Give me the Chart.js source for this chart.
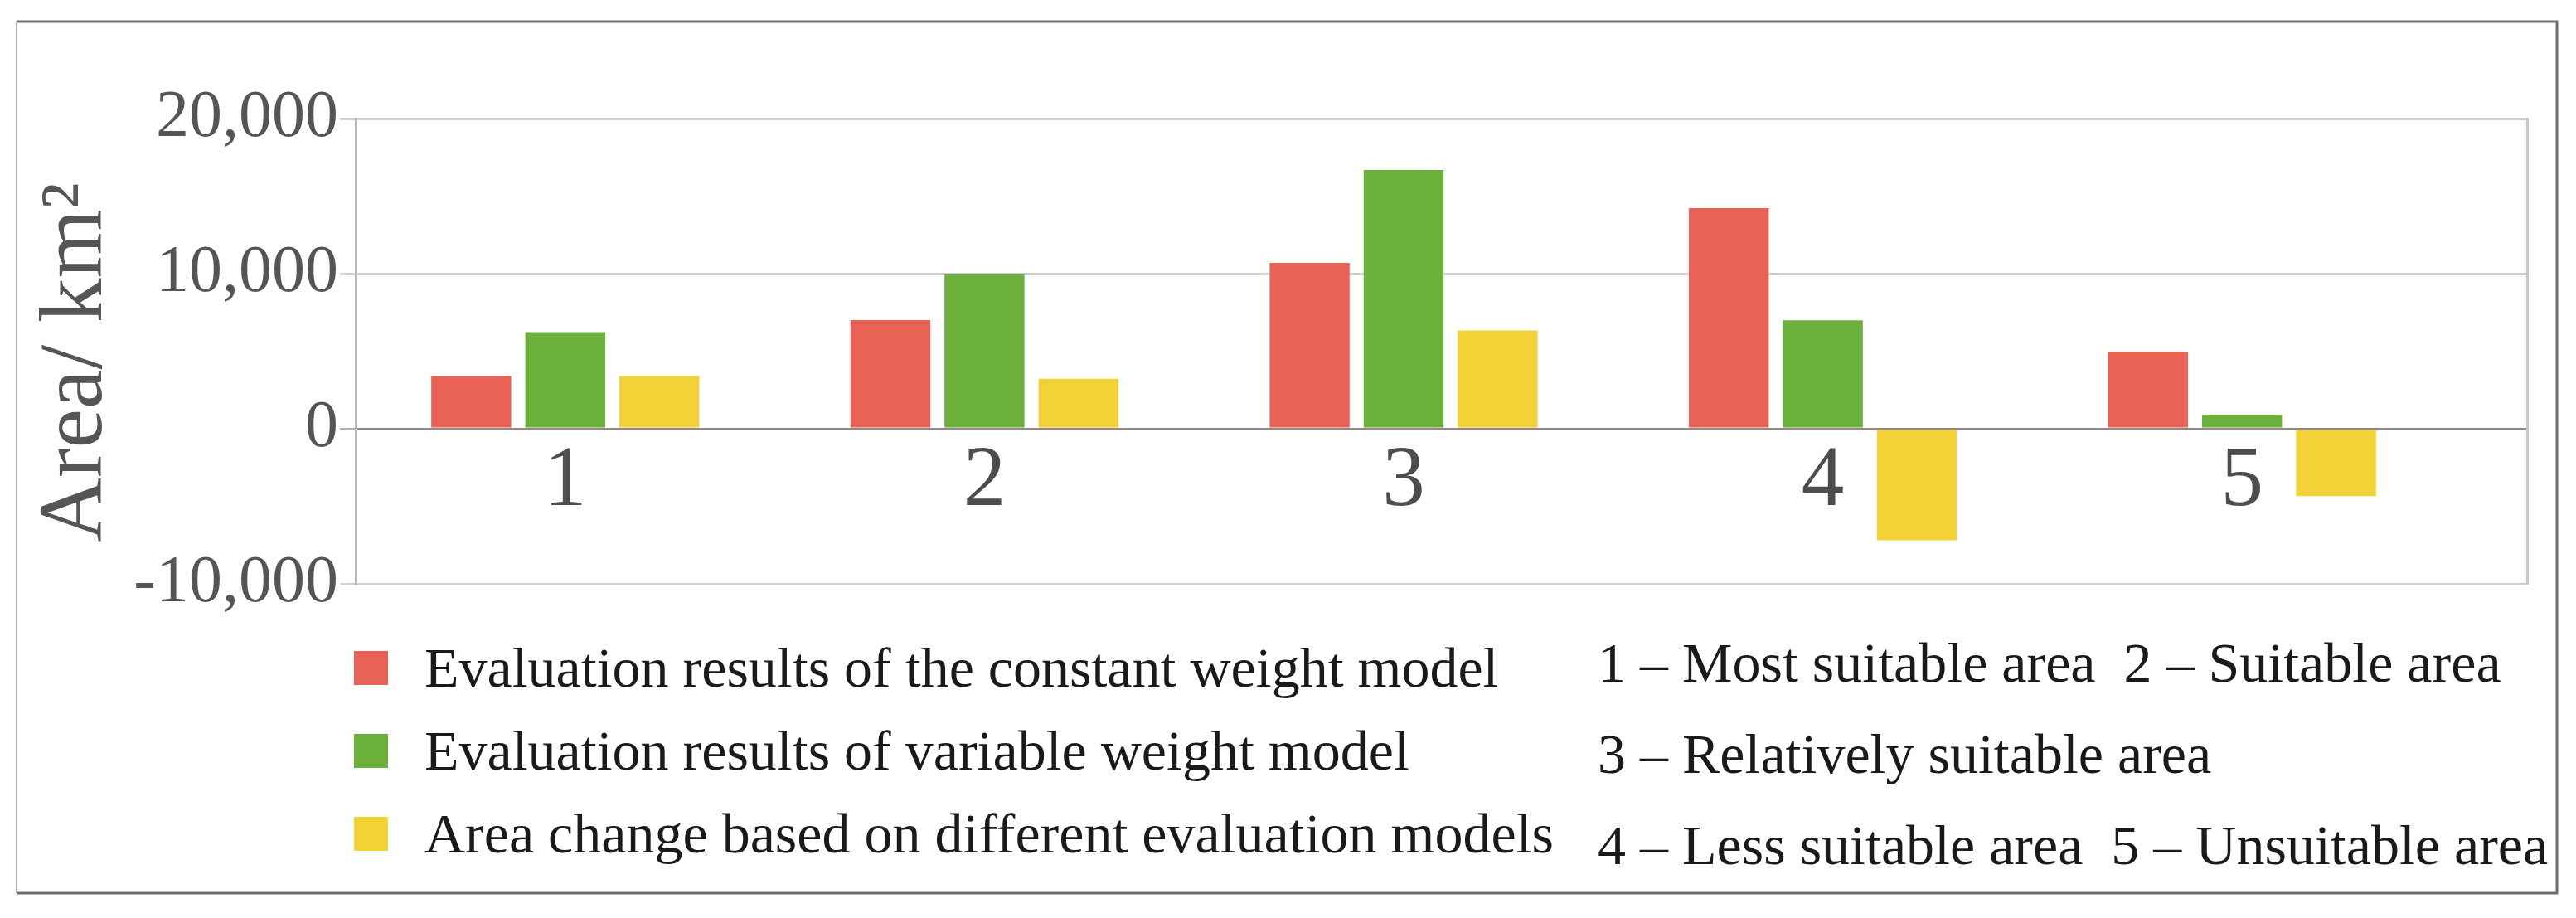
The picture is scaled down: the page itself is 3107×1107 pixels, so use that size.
<!DOCTYPE html>
<html>
<head>
<meta charset="utf-8">
<script src="https://cdn.jsdelivr.net/npm/chart.js@4.4.1/dist/chart.umd.min.js"></script>
<style>
  html, body { margin: 0; padding: 0; background: #ffffff; }
  #wrap { position: relative; width: 3107px; height: 1107px; }
</style>
</head>
<body>
<div id="wrap"><canvas id="c"></canvas></div>
<script>
// ---- data ----
const categories = ['1', '2', '3', '4', '5'];
const constantWeight = [3400, 7000, 10700, 14230, 4970];
const variableWeight = [6230, 9950, 16690, 6990, 890];
const areaChange = [3400, 3220, 6340, -7190, -4340];
const seriesLabels = [
  'Evaluation results of the constant weight model',
  'Evaluation results of variable weight model',
  'Area change based on different evaluation models'
];
const classNotes = [
  '1 \u2013 Most suitable area  2 \u2013 Suitable area',
  '3 \u2013 Relatively suitable area',
  '4 \u2013 Less suitable area  5 \u2013 Unsuitable area'
];
const yTitle = 'Area/ km\u00B2 ';

const colors = ['#EA6155', '#6CB03C', '#F3D237'];
const SERIF = '"Liberation Serif", "Times New Roman", Times, serif';

function toPoints(arr) { return arr.map((v, i) => ({ x: i + 1, y: v })); }

const framePlugin = {
  id: 'frame',
  afterDraw(chart) {
    const ctx = chart.ctx;
    ctx.save();
    ctx.strokeStyle = '#6e6e6e';
    ctx.lineWidth = 3;
    ctx.beginPath();
    ctx.moveTo(20, 26); ctx.lineTo(3084, 26); ctx.lineTo(3084, 1077); ctx.lineTo(20, 1077);
    ctx.stroke();
    ctx.strokeStyle = '#b0b0b0';
    ctx.lineWidth = 2;
    ctx.beginPath();
    ctx.moveTo(20, 26); ctx.lineTo(20, 1077);
    ctx.stroke();
    ctx.restore();
  }
};

const legendPlugin = {
  id: 'customLegend',
  afterDraw(chart) {
    const ctx = chart.ctx;
    const area = chart.chartArea;
    ctx.save();
    ctx.font = '68px ' + SERIF;
    ctx.textBaseline = 'alphabetic';
    ctx.textAlign = 'left';
    const x0 = area.left - 2;
    chart.data.datasets.forEach((ds, i) => {
      const base = area.bottom + 124 + i * 100;
      ctx.fillStyle = ds.backgroundColor;
      ctx.fillRect(x0, base - 43, 41, 41);
      ctx.fillStyle = '#1a1a1a';
      ctx.fillText(ds.label, x0 + 85, base);
    });
    classNotes.forEach((t, i) => {
      const base = area.bottom + 118 + i * 110;
      ctx.fillStyle = '#1a1a1a';
      ctx.fillText(t, 1927, base);
    });
    ctx.restore();
  }
};

function build() {
  new Chart(document.getElementById('c'), {
    type: 'bar',
    data: {
      datasets: [
        { label: seriesLabels[0], data: toPoints(constantWeight), backgroundColor: colors[0] },
        { label: seriesLabels[1], data: toPoints(variableWeight), backgroundColor: colors[1] },
        { label: seriesLabels[2], data: toPoints(areaChange), backgroundColor: colors[2] }
      ]
    },
    options: {
      responsive: true,
      maintainAspectRatio: false,
      devicePixelRatio: 1,
      animation: false,
      datasets: { bar: { categoryPercentage: 0.673, barPercentage: 0.85, borderWidth: 0 } },
      layout: { padding: { top: 143, right: 59, bottom: 403, left: 0 } },
      plugins: { legend: { display: false }, tooltip: { enabled: false } },
      scales: {
        x: {
          type: 'linear',
          offset: false,
          position: { y: 0 },
          min: 0.5,
          max: 5.68,
          afterBuildTicks: (axis) => { axis.ticks = categories.map((c, i) => ({ value: i + 1 })); },
          ticks: {
            autoSkip: false,
            maxRotation: 0,
            padding: 3,
            color: '#4d4d4d',
            font: { family: SERIF, size: 103 },
            callback: (v) => categories[v - 1]
          },
          grid: { display: false, drawTicks: false, offset: false },
          border: { display: true, color: 'rgba(110,95,95,0.5)', width: 3 }
        },
        y: {
          min: -10000,
          max: 20000,
          z: 1,
          afterFit: (axis) => { axis.width = 429; },
          ticks: {
            stepSize: 10000,
            padding: 2,
            color: '#555555',
            font: { family: SERIF, size: 80 }
          },
          grid: {
            color: (c) => (c.tick && c.tick.value === 0) ? 'rgba(110,95,95,0.5)' : 'rgba(110,95,95,0.3)',
            lineWidth: 3,
            tickLength: 19
          },
          border: { display: true, color: '#bdb5b5', width: 3 },
          title: {
            display: true,
            text: yTitle,
            color: '#555555',
            font: { family: SERIF, size: 107 },
            padding: { top: 30, bottom: 0 }
          }
        },
        y2: {
          position: 'right',
          min: -10000,
          max: 20000,
          afterFit: (axis) => { axis.width = 0; },
          ticks: { display: false },
          grid: { display: false, drawTicks: false },
          border: { display: true, color: '#cbc5c5', width: 3 }
        }
      }
    },
    plugins: [framePlugin, legendPlugin]
  });
}

const loads = ['68px', '80px', '103px', '107px'].map(s => document.fonts.load(s + ' "Liberation Serif"'));
Promise.all(loads).then(build, build);
</script>
</body>
</html>
